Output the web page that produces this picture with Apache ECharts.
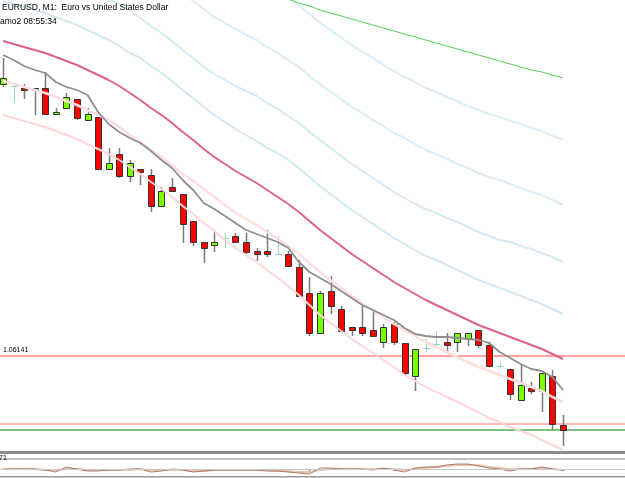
<!DOCTYPE html>
<html><head><meta charset="utf-8">
<script src="https://cdn.jsdelivr.net/npm/echarts@6/dist/echarts.min.js"></script>
<style>html,body{margin:0;padding:0;background:#fff;overflow:hidden}#c{width:625px;height:478px}</style>
</head><body><div id="c"></div>
<script>
// ---- data (EURUSD M1, prices) ----
const titleText = 'EURUSD, M1:  Euro vs United States Dollar';
const subTitleText = 'amo2 08:55:34';
const subScaleLabel = '71';
const hLevel = 1.06141;
const askPrice = 1.06073;
const bidPrice = 1.06067;

const open  = [1.06413,1.06411,1.06409,1.06407,1.06409,1.06383,1.06389,1.06398,1.06377,1.06380,1.06328,1.06343,1.06321,1.06328,1.06322,1.06291,1.06310,1.06303,1.06276,1.06255,1.06252,1.06259,1.06261,1.06255,1.06246,1.06246,1.06243,1.06243,1.06230,1.06204,1.06164,1.06206,1.06188,1.06170,1.06170,1.06167,1.06155,1.06173,1.06154,1.06121,1.06149,1.06153,1.06155,1.06155,1.06158,1.06167,1.06152,1.06131,1.06128,1.06097,1.06109,1.06106,1.06121,1.06072];
const close = [1.06419,1.06411,1.06407,1.06409,1.06383,1.06385,1.06400,1.06379,1.06383,1.06328,1.06334,1.06321,1.06334,1.06325,1.06291,1.06306,1.06306,1.06273,1.06255,1.06249,1.06255,1.06259,1.06255,1.06245,1.06243,1.06243,1.06243,1.06231,1.06201,1.06164,1.06204,1.06191,1.06166,1.06167,1.06164,1.06161,1.06170,1.06155,1.06124,1.06148,1.06149,1.06153,1.06152,1.06164,1.06164,1.06152,1.06131,1.06131,1.06103,1.06112,1.06106,1.06124,1.06073,1.06067];
const low   = [1.06410,1.06395,1.06398,1.06382,1.06383,1.06383,1.06389,1.06377,1.06377,1.06328,1.06328,1.06319,1.06315,1.06312,1.06285,1.06291,1.06306,1.06254,1.06251,1.06234,1.06245,1.06249,1.06255,1.06243,1.06236,1.06240,1.06243,1.06231,1.06201,1.06161,1.06164,1.06183,1.06165,1.06161,1.06161,1.06161,1.06149,1.06152,1.06121,1.06106,1.06145,1.06150,1.06144,1.06145,1.06151,1.06149,1.06131,1.06128,1.06097,1.06097,1.06103,1.06085,1.06067,1.06051];
const high  = [1.06439,1.06412,1.06413,1.06409,1.06425,1.06389,1.06404,1.06398,1.06389,1.06380,1.06349,1.06349,1.06337,1.06328,1.06328,1.06310,1.06319,1.06303,1.06276,1.06255,1.06267,1.06264,1.06264,1.06264,1.06249,1.06267,1.06261,1.06246,1.06237,1.06220,1.06206,1.06221,1.06191,1.06170,1.06191,1.06188,1.06173,1.06175,1.06154,1.06148,1.06158,1.06166,1.06164,1.06164,1.06164,1.06167,1.06155,1.06134,1.06128,1.06132,1.06115,1.06124,1.06127,1.06082];

const maFast  = [1.06442,1.06437,1.06431,1.06427,1.06424,1.06415,1.06410,1.06407,1.06402,1.06385,1.06373,1.06365,1.06359,1.06354,1.06346,1.06337,1.06329,1.06317,1.06307,1.06294,1.06288,1.06281,1.06274,1.06267,1.06263,1.06259,1.06255,1.06249,1.06235,1.06225,1.06219,1.06213,1.06206,1.06199,1.06192,1.06187,1.06182,1.06177,1.06169,1.06163,1.06161,1.06160,1.06160,1.06159,1.06158,1.06157,1.06154,1.06145,1.06139,1.06133,1.06128,1.06126,1.06120,1.06107];
const maMid   = [1.06456,1.06453,1.06450,1.06447,1.06444,1.06440,1.06436,1.06432,1.06427,1.06422,1.06417,1.06411,1.06404,1.06397,1.06389,1.06382,1.06374,1.06365,1.06357,1.06348,1.06340,1.06333,1.06326,1.06320,1.06314,1.06307,1.06300,1.06293,1.06285,1.06276,1.06267,1.06259,1.06251,1.06243,1.06236,1.06229,1.06222,1.06215,1.06209,1.06203,1.06197,1.06192,1.06187,1.06182,1.06177,1.06172,1.06168,1.06164,1.06160,1.06156,1.06152,1.06148,1.06143,1.06138];
const bandLow1 = [1.06416,1.06413,1.06410,1.06407,1.06404,1.06400,1.06396,1.06392,1.06387,1.06382,1.06377,1.06370,1.06362,1.06355,1.06347,1.06340,1.06332,1.06323,1.06316,1.06308,1.06300,1.06292,1.06284,1.06278,1.06272,1.06265,1.06258,1.06251,1.06243,1.06234,1.06225,1.06217,1.06209,1.06201,1.06194,1.06187,1.06180,1.06173,1.06167,1.06161,1.06155,1.06150,1.06145,1.06140,1.06135,1.06130,1.06126,1.06122,1.06118,1.06114,1.06110,1.06106,1.06100,1.06095];
const bandLow2 = [1.06382,1.06379,1.06376,1.06373,1.06370,1.06366,1.06362,1.06358,1.06353,1.06348,1.06343,1.06337,1.06330,1.06323,1.06315,1.06308,1.06300,1.06291,1.06283,1.06274,1.06266,1.06257,1.06249,1.06242,1.06235,1.06227,1.06219,1.06211,1.06202,1.06192,1.06182,1.06174,1.06166,1.06158,1.06151,1.06144,1.06137,1.06130,1.06122,1.06116,1.06110,1.06105,1.06100,1.06095,1.06090,1.06085,1.06079,1.06075,1.06070,1.06066,1.06062,1.06057,1.06052,1.06047];
const bandUp1 = [1.06496,1.06493,1.06490,1.06487,1.06484,1.06480,1.06476,1.06472,1.06467,1.06462,1.06457,1.06451,1.06444,1.06439,1.06431,1.06424,1.06416,1.06407,1.06399,1.06390,1.06382,1.06375,1.06368,1.06362,1.06356,1.06349,1.06344,1.06337,1.06329,1.06320,1.06311,1.06303,1.06295,1.06287,1.06280,1.06273,1.06266,1.06259,1.06253,1.06247,1.06241,1.06237,1.06232,1.06227,1.06222,1.06217,1.06213,1.06209,1.06205,1.06201,1.06197,1.06193,1.06188,1.06183];
const bandUp2 = [1.06536,1.06533,1.06530,1.06527,1.06524,1.06520,1.06516,1.06512,1.06507,1.06502,1.06497,1.06493,1.06486,1.06479,1.06471,1.06464,1.06456,1.06447,1.06439,1.06430,1.06423,1.06417,1.06411,1.06406,1.06401,1.06394,1.06388,1.06381,1.06374,1.06365,1.06357,1.06349,1.06341,1.06333,1.06326,1.06319,1.06312,1.06305,1.06299,1.06293,1.06288,1.06284,1.06279,1.06275,1.06270,1.06265,1.06261,1.06257,1.06255,1.06251,1.06248,1.06244,1.06240,1.06235];
const bandUp3 = [null,null,null,null,null,null,null,null,null,null,null,null,null,null,null,null,null,1.06503,1.06496,1.06488,1.06480,1.06474,1.06468,1.06462,1.06457,1.06450,1.06444,1.06437,1.06430,1.06421,1.06413,1.06405,1.06398,1.06390,1.06384,1.06377,1.06371,1.06364,1.06359,1.06353,1.06347,1.06343,1.06338,1.06333,1.06329,1.06324,1.06320,1.06317,1.06313,1.06309,1.06305,1.06302,1.06297,1.06292];
const bandUp4 = [null,null,null,null,null,null,null,null,null,null,null,null,null,null,null,null,null,null,null,null,null,null,null,null,null,null,1.06505,1.06499,1.06491,1.06483,1.06474,1.06467,1.06459,1.06452,1.06445,1.06439,1.06432,1.06426,1.06420,1.06415,1.06409,1.06405,1.06400,1.06396,1.06391,1.06387,1.06383,1.06380,1.06376,1.06373,1.06369,1.06366,1.06361,1.06357];
const maSlow  = [null,null,null,null,null,null,null,null,null,null,null,null,null,null,null,null,null,null,null,null,null,null,null,null,null,null,1.06501,1.06498,1.06494,1.06491,1.06487,1.06484,1.06481,1.06478,1.06475,1.06472,1.06469,1.06466,1.06463,1.06460,1.06457,1.06454,1.06451,1.06448,1.06445,1.06442,1.06439,1.06436,1.06433,1.06430,1.06427,1.06425,1.06422,1.06419];

const oscMain   = [0,0,0,0,-1,-3,2,0,-2,-2,-1,-1,0,0,-3,-2,0,-1,-3,-2,-1,-1,-1,-1,-1,-2,-2,-3,-4,-5,1,1,0,0,0,-1,1,-1,-3,1,2,2,4,5,5,3,1,0,-2,0,0,2,0,-1];
const oscSignal = [0,0,0,0,-1,-1,0,0,-1,-1,-1,-1,-1,0,-1,-1,-1,-1,-2,-2,-1,-1,-1,-1,-1,-1,-2,-2,-3,-3,-1,0,0,0,0,0,0,0,-1,0,1,2,3,4,4,4,2,1,0,0,0,1,0,-1];
const oscLevels = [0, 10];
const timeTicks = [5, 21, 29, 37, 53];

// ---- chart ----
const UP = '#7cfc00', DOWN = '#ff0000', DOJI = '#8fd9b6', EDGE = '#333333', WICK = '#7a7a7a';
const idx = open.map((_, i) => i);
const candleData = idx.map(i => [i, open[i], close[i], low[i], high[i]]);
const pts = arr => arr.map((v, i) => [i, v == null ? '-' : v]);

const X_MIN = -0.2839, X_MAX = 58.868;

function renderCandle(params, api) {
  const i = api.value(0), o = api.value(1), c = api.value(2), l = api.value(3), h = api.value(4);
  const pO = api.coord([i, o]), pC = api.coord([i, c]), pL = api.coord([i, l]), pH = api.coord([i, h]);
  const cx = Math.round(pO[0]) + 0.5;
  const half = 3;
  const children = [];
  if (o === c) {
    const y = Math.round(pO[1]) + 0.5;
    children.push({type: 'line', shape: {x1: cx, y1: Math.round(pH[1]), x2: cx, y2: Math.round(pL[1])}, style: {stroke: DOJI, lineWidth: 1}});
    children.push({type: 'line', shape: {x1: cx - half - 0.5, y1: y, x2: cx + half + 0.5, y2: y}, style: {stroke: DOJI, lineWidth: 1}});
  } else {
    children.push({type: 'line', shape: {x1: cx, y1: Math.round(pH[1]), x2: cx, y2: Math.round(pL[1])}, style: {stroke: WICK, lineWidth: 1.5}});
    const top = Math.round(Math.min(pO[1], pC[1])) + 0.5;
    const bot = Math.round(Math.max(pO[1], pC[1])) + 0.5;
    children.push({type: 'rect', shape: {x: cx - half, y: top, width: half * 2, height: Math.max(bot - top, 2)},
      style: {fill: c > o ? UP : DOWN, stroke: EDGE, lineWidth: 1}});
  }
  return {type: 'group', children};
}

function lineSeries(name, arr, color, width, z) {
  return {name, type: 'line', data: pts(arr), xAxisIndex: 0, yAxisIndex: 0, showSymbol: false, symbol: 'none',
    lineStyle: {color, width}, z, silent: true, animation: false, clip: true};
}
function levelSeries(name, value, color, width, z) {
  return {name, type: 'line', data: [[X_MIN, value], [X_MAX, value]], xAxisIndex: 0, yAxisIndex: 0,
    showSymbol: false, symbol: 'none', lineStyle: {color, width}, z, silent: true, animation: false};
}

const chart = echarts.init(document.getElementById('c'), null, {renderer: 'canvas'});
chart.setOption({
  animation: false,
  backgroundColor: '#ffffff',
  grid: [
    {left: 0, right: 0, top: 0, height: 451},
    {left: 0, right: 0, top: 455, height: 21}
  ],
  xAxis: [
    {type: 'value', gridIndex: 0, min: X_MIN, max: X_MAX, show: false},
    {type: 'value', gridIndex: 1, min: X_MIN, max: X_MAX, axisLine: {show: false}, splitLine: {show: false},
      axisLabel: {show: false},
      axisTick: {show: true, length: 2, lineStyle: {color: '#555'}, customValues: timeTicks}}
  ],
  yAxis: [
    {type: 'value', gridIndex: 0, min: 1.06046, max: 1.06497, show: false},
    {type: 'value', gridIndex: 1, min: -7, max: 14, show: false}
  ],
  graphic: [
    {type: 'rect', shape: {x: 0, y: 451, width: 625, height: 3}, style: {fill: '#8c8c8c'}, z: 100},
    {type: 'rect', shape: {x: 0, y: 476, width: 625, height: 1.5}, style: {fill: '#999999'}, z: 100},
    {type: 'text', left: 2, top: 3, style: {text: titleText, font: '8.5px "Liberation Sans"', fill: '#000'}, z: 100},
    {type: 'text', left: 0, top: 17, style: {text: subTitleText, font: '8.5px "Liberation Sans"', fill: '#000'}, z: 100},
    {type: 'text', left: -1, top: 455, style: {text: subScaleLabel, font: '7px "Liberation Sans"', fill: '#000'}, z: 100}
  ],
  series: [
    lineSeries('band+4', bandUp4, '#d8edf4', 2, 2),
    lineSeries('band+3', bandUp3, '#d8edf4', 2, 2),
    lineSeries('band+2', bandUp2, '#d4ebf3', 2, 2),
    lineSeries('band+1', bandUp1, '#d2e9f2', 2, 2),
    lineSeries('maSlow', maSlow, '#55cc55', 1, 2),
    levelSeries('level', hLevel, '#ff9f9f', 2, 2),
    levelSeries('ask', askPrice, '#ffa0a0', 1.5, 2),
    levelSeries('bid', bidPrice, '#4caf50', 1.5, 2),
    {
      type: 'custom', name: 'EURUSD', xAxisIndex: 0, yAxisIndex: 0, renderItem: renderCandle,
      data: candleData, encode: {x: 0, y: [1, 2, 3, 4]}, z: 3, clip: true, silent: true
    },
    lineSeries('bandLow2', bandLow2, '#ffd6d6', 2, 4),
    lineSeries('bandLow1', bandLow1, '#ffdede', 2.5, 4),
    lineSeries('maMid', maMid, '#dd6484', 2, 5),
    lineSeries('maFast', maFast, '#8e8e8e', 1.8, 6),
    {type: 'line', xAxisIndex: 1, yAxisIndex: 1, data: pts(oscSignal), showSymbol: false, symbol: 'none',
      lineStyle: {color: '#e8c6b6', width: 2}, z: 3, silent: true,
      markLine: {silent: true, symbol: 'none', label: {show: false},
        data: [{yAxis: oscLevels[0], lineStyle: {color: '#c8c8c8', width: 1, type: 'solid'}},
               {yAxis: oscLevels[1], lineStyle: {color: '#c0c0c0', width: 2, type: 'solid'}}]}},
    {type: 'line', xAxisIndex: 1, yAxisIndex: 1, data: pts(oscMain), showSymbol: false, symbol: 'none',
      lineStyle: {color: '#b0785c', width: 1}, z: 4, silent: true}
  ]
});
// label for the horizontal level, positioned through the y axis scale
const levelY = chart.convertToPixel({yAxisIndex: 0}, hLevel);
chart.setOption({graphic: [
  {type: 'rect', shape: {x: 0, y: 451, width: 625, height: 3}, style: {fill: '#8c8c8c'}, z: 100},
  {type: 'rect', shape: {x: 0, y: 476, width: 625, height: 1.5}, style: {fill: '#999999'}, z: 100},
  {type: 'text', left: 2, top: 3, style: {text: titleText, font: '8.5px "Liberation Sans"', fill: '#000'}, z: 100},
  {type: 'text', left: 0, top: 17, style: {text: subTitleText, font: '8.5px "Liberation Sans"', fill: '#000'}, z: 100},
  {type: 'text', left: -1, top: 455, style: {text: subScaleLabel, font: '7px "Liberation Sans"', fill: '#000'}, z: 100},
  {type: 'text', left: 3, top: levelY - 9, style: {text: hLevel.toFixed(5), font: '7px "Liberation Sans"', fill: '#000'}, z: 100}
]}, {replaceMerge: ['graphic']});
</script>
</body></html>
